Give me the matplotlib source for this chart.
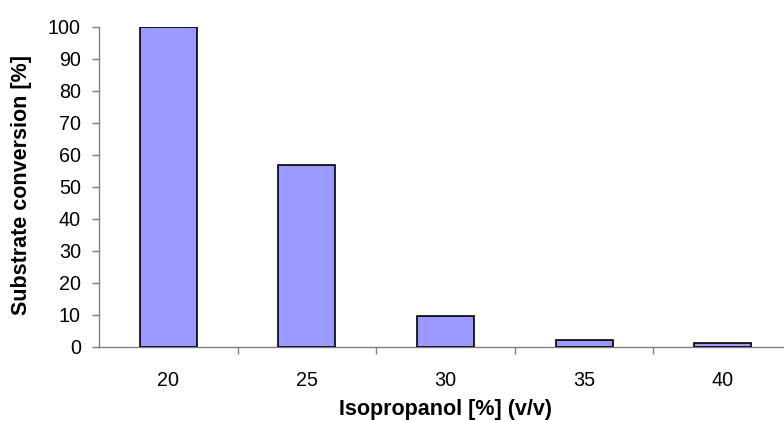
import matplotlib
matplotlib.use("Agg")
import matplotlib.pyplot as plt
import numpy as np

categories = ["20", "25", "30", "35", "40"]
values = [100, 56.8, 9.7, 2.2, 1.1]

plt.rcParams['font.family'] = ['Liberation Sans', 'DejaVu Sans']

fig = plt.figure(figsize=(7.84, 4.21), dpi=100)
W, H = 784, 421
left, right, top, bottom = 99, 792, 27, 347
ax = fig.add_axes([left / W, (H - bottom) / H, (right - left) / W, (bottom - top) / H])

x = np.arange(len(categories))
ax.bar(x, values, width=0.41, color="#9999FF", edgecolor="black", linewidth=1.2, zorder=3)

ax.set_xlim(-0.5, len(categories) - 0.5)
ax.set_ylim(0, 100)
ax.set_yticks(np.arange(0, 101, 10))
ax.set_xticks(x)
ax.set_xticklabels(categories)
ax.set_xticks(np.arange(0.5, len(categories) - 0.5, 1), minor=True)
ax.tick_params(axis='x', which='major', length=0, pad=17, labelsize=14.2)
ax.tick_params(axis='x', which='minor', length=5, width=1, color="#808080", direction='out')
ax.tick_params(axis='y', length=5, width=1, color="#808080", direction='out', labelsize=14.2, pad=8)

for s in ["top", "right"]:
    ax.spines[s].set_visible(False)
for s in ["left", "bottom"]:
    ax.spines[s].set_color("#808080")
    ax.spines[s].set_linewidth(1)

ax.set_xlabel("Isopropanol [%] (v/v)", fontsize=15.5, fontweight='bold', va='center', ha='center')
ax.set_ylabel("Substrate conversion [%]", fontsize=15.5, fontweight='bold', va='center', ha='center')
ax.xaxis.set_label_coords((446 - left) / (right - left), -(410 - bottom) / (bottom - top))
ax.yaxis.set_label_coords(-(99 - 22) / (right - left), (bottom - 185) / (bottom - top))

fig.savefig("out.png", dpi=100)
